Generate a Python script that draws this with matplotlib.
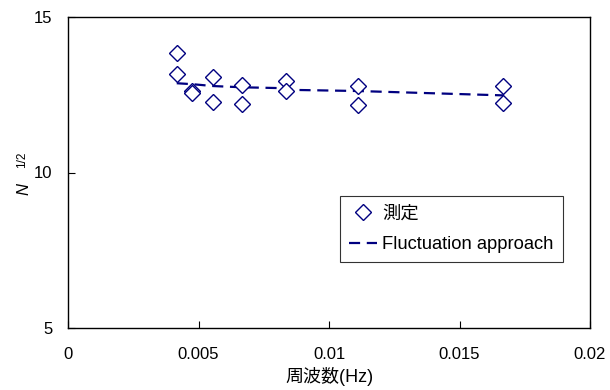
import matplotlib
matplotlib.use("Agg")
import matplotlib.pyplot as plt

plt.rcParams["font.family"] = ["Liberation Sans", "Noto Sans CJK JP", "DejaVu Sans"]

# measurement frequencies (Hz) and N^(1/2) values
freq = [1/240, 1/240, 1/210, 1/210, 1/180, 1/180, 1/150, 1/150,
        1/120, 1/120, 1/90, 1/90, 1/60, 1/60]
sqrt_n = [13.84, 13.17, 12.62, 12.56, 13.07, 12.27, 12.81, 12.20,
          12.94, 12.62, 12.78, 12.17, 12.78, 12.23]

# fluctuation approach curve
fit_freq = [1/240, 1/210, 1/180, 1/150, 1/120, 1/120, 1/90, 1/60]
fit_val = [12.87, 12.84, 12.78, 12.74, 12.71, 12.66, 12.62, 12.48]

navy = "#000080"

fig = plt.figure(figsize=(6.1, 3.9), dpi=100)
ax = fig.add_axes([68/610, 62/390, 522/610, 311/390])

ax.plot(freq, sqrt_n, "D", mfc="white", mec=navy, mew=1.0, ms=8,
        linestyle="none", label="測定", zorder=3)
ax.plot(fit_freq, fit_val, "--", color=navy, lw=1.6, dashes=(5, 3),
        label="Fluctuation approach", zorder=2)

ax.set_xlim(0, 0.02)
ax.set_ylim(5, 15)
ax.set_xticks([0, 0.005, 0.01, 0.015, 0.02])
ax.set_xticklabels(["0", "0.005", "0.01", "0.015", "0.02"])
ax.set_yticks([5, 10, 15])
ax.tick_params(direction="in", length=5, width=0.8, labelsize=12,
               top=False, right=False)
ax.tick_params(axis="x", pad=14)
ax.tick_params(axis="y", pad=11)
for s in ax.spines.values():
    s.set_linewidth(1.0)
    s.set_color("black")

ax.set_xlabel("周波数(Hz)", fontsize=13, labelpad=3)

# y label: italic N with a raised 1/2
fig.text(24/610, 1 - 189/390, "N", rotation=90, style="italic",
         fontsize=12, ha="center", va="center")
fig.text(22/610, 1 - 160/390, "1/2", rotation=90, fontsize=8.5,
         ha="center", va="center")

leg = ax.legend(loc="upper left", bbox_to_anchor=((340-68)/522, (328-196)/311),
                frameon=True, fancybox=False, edgecolor="black",
                fontsize=13.2, handlelength=1.5, handletextpad=0.3,
                borderpad=0.5, borderaxespad=0, labelspacing=0.75)
leg.get_frame().set_linewidth(0.8)

fig.savefig("out.png", dpi=100)
